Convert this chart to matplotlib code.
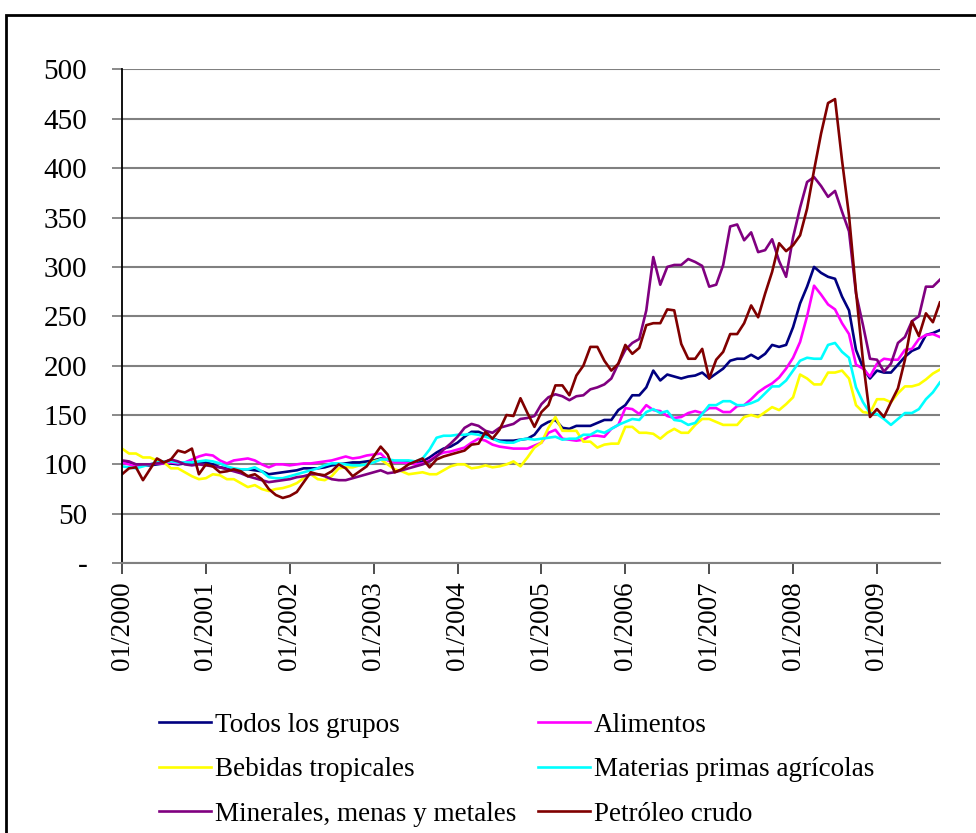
import numpy as np
import matplotlib
matplotlib.use('Agg')
import matplotlib.pyplot as plt
from matplotlib.patches import Rectangle

plt.rcParams['font.family'] = ['Liberation Serif', 'DejaVu Serif']

# monthly index values, 01/2000 .. 10/2009 (one row per year)
todos = [103, 101, 100, 99, 99, 100, 101, 101, 100, 101, 102, 102,
         102, 100, 97, 96, 95, 95, 95, 94, 93, 90, 91, 92,
         93, 94, 96, 96, 96, 97, 99, 100, 101, 102, 102, 103,
         104, 106, 105, 103, 103, 102, 102, 103, 107, 112, 116, 118,
         122, 128, 133, 133, 130, 126, 124, 124, 124, 125, 126, 130,
         139, 143, 145, 137, 136, 139, 139, 139, 142, 145, 145, 155,
         160, 170, 170, 178, 195, 185, 191, 189, 187, 189, 190, 193,
         187, 192, 197, 205, 207, 207, 211, 207, 212, 221, 219, 221,
         239, 263, 280, 300, 294, 290, 288, 270, 256, 216, 198, 187,
         195, 193, 193, 201, 209, 215, 218, 231, 233, 236]

alimentos = [102, 100, 98, 99, 100, 101, 101, 102, 101, 102, 105, 108,
             110, 109, 104, 101, 104, 105, 106, 104, 100, 97, 100, 100,
             99, 100, 101, 101, 102, 103, 104, 106, 108, 106, 107, 109,
             110, 111, 104, 102, 102, 101, 100, 101, 104, 109, 112, 113,
             115, 117, 122, 126, 124, 120, 118, 117, 116, 116, 116, 119,
             122, 132, 135, 126, 125, 124, 125, 129, 129, 128, 136, 140,
             157, 156, 151, 160, 155, 154, 149, 147, 148, 152, 154, 152,
             157, 157, 153, 153, 159, 160, 166, 173, 178, 182, 188, 197,
             208, 224, 250, 281, 272, 262, 257, 243, 232, 201, 197, 189,
             202, 207, 206, 206, 216, 217, 227, 231, 232, 229]

bebidas = [116, 111, 111, 107, 107, 104, 102, 96, 96, 92, 88, 85,
           86, 90, 89, 85, 85, 81, 77, 79, 75, 73, 75, 76,
           78, 81, 86, 90, 85, 84, 88, 96, 97, 97, 99, 100,
           103, 105, 100, 95, 93, 90, 91, 92, 90, 90, 94, 98,
           100, 100, 96, 97, 99, 97, 98, 100, 103, 98, 107, 117,
           122, 137, 148, 134, 134, 134, 123, 123, 117, 120, 121, 121,
           138, 138, 132, 132, 131, 126, 132, 136, 132, 132, 140, 146,
           146, 143, 140, 140, 140, 148, 150, 148, 153, 158, 155, 161,
           168, 191, 187, 181, 181, 193, 193, 195, 187, 160, 153, 152,
           166, 166, 163, 172, 179, 179, 181, 186, 192, 196]

materias = [98, 97, 96, 98, 100, 102, 103, 103, 102, 102, 102, 103,
            104, 103, 101, 98, 96, 95, 95, 97, 93, 87, 86, 86,
            88, 90, 92, 94, 96, 99, 101, 101, 100, 99, 99, 100,
            102, 105, 105, 104, 104, 104, 103, 106, 115, 127, 129, 129,
            130, 130, 131, 130, 128, 126, 123, 122, 122, 125, 126, 125,
            126, 127, 128, 125, 126, 126, 130, 130, 134, 132, 136, 140,
            143, 146, 145, 153, 156, 152, 154, 145, 144, 140, 142, 151,
            160, 160, 164, 164, 160, 160, 162, 165, 172, 179, 179, 185,
            195, 205, 208, 207, 207, 221, 223, 214, 208, 178, 163, 152,
            151, 146, 140, 146, 152, 152, 156, 166, 173, 183]

minerales = [104, 103, 100, 100, 100, 101, 102, 105, 103, 100, 99, 100,
             99, 98, 97, 95, 93, 91, 88, 86, 84, 82, 83, 84,
             85, 87, 88, 90, 90, 88, 85, 84, 84, 86, 88, 90,
             92, 94, 91, 92, 94, 96, 98, 100, 103, 108, 115, 121,
             128, 137, 141, 139, 134, 132, 137, 139, 141, 146, 147, 149,
             161, 168, 171, 169, 165, 169, 170, 176, 178, 181, 187, 202,
             216, 223, 227, 256, 310, 282, 300, 302, 302, 308, 305, 301,
             280, 282, 302, 341, 343, 327, 335, 315, 317, 328, 306, 290,
             330, 360, 386, 391, 382, 371, 377, 356, 336, 273, 241, 207,
             206, 194, 202, 223, 229, 245, 250, 280, 280, 287]

petroleo = [90, 96, 97, 84, 95, 106, 102, 105, 114, 112, 116, 90,
            100, 98, 92, 93, 95, 93, 88, 90, 85, 75, 69, 66,
            68, 72, 82, 92, 90, 89, 93, 100, 96, 88, 93, 98,
            108, 118, 110, 92, 95, 100, 103, 106, 97, 105, 108, 110,
            112, 114, 120, 121, 133, 126, 135, 150, 149, 167, 152, 138,
            153, 160, 180, 180, 170, 190, 200, 219, 219, 205, 195, 202,
            221, 212, 218, 241, 243, 243, 257, 256, 222, 207, 207, 217,
            187, 206, 214, 232, 232, 243, 261, 249, 273, 295, 324, 316,
            322, 332, 359, 398, 435, 466, 470, 408, 352, 275, 205, 148,
            156, 148, 163, 177, 206, 245, 230, 253, 244, 264]

names = ['Todos los grupos', 'Alimentos', 'Bebidas tropicales',
         'Materias primas agrícolas', 'Minerales, menas y metales', 'Petróleo crudo']
colors = ['#000080', '#FF00FF', '#FFFF00', '#00FFFF', '#800080', '#800000']
year_labels = ['01/%d' % y for y in range(2000, 2010)]
y_ticks = list(range(0, 501, 50))
y_labels = ['-'] + [str(v) for v in y_ticks[1:]]

fig = plt.figure(figsize=(9.76, 8.33), dpi=100)
ax = fig.add_axes([0.125, 0.324, 0.838, 0.5926])

months = np.arange(len(todos))
lines = []
for vals, name, col in zip([todos, alimentos, bebidas, materias, minerales, petroleo], names, colors):
    ln, = ax.plot(months, vals, color=col, lw=1.9, label=name)
    lines.append(ln)

ax.set_xlim(0, len(todos) - 1)
ax.set_ylim(0, 500)
ax.set_yticks(y_ticks)
ax.set_yticklabels(y_labels)
ax.set_xticks(np.arange(0, len(todos), 12))
ax.set_xticklabels(year_labels, rotation=90)

ax.yaxis.grid(True, color='#808080', lw=1.5)
ax.set_axisbelow(True)
for s in ['top', 'right']:
    ax.spines[s].set_visible(False)
ax.spines['left'].set_color('black')
ax.spines['left'].set_linewidth(1.3)
ax.spines['bottom'].set_color('#808080')
ax.spines['bottom'].set_linewidth(1.5)
ax.tick_params(axis='y', direction='out', length=7, width=1.3, color='#808080',
               labelsize=21, pad=18)
ax.tick_params(axis='x', direction='out', length=8, width=1.3, color='#404040',
               labelsize=19.5, pad=5)

# legend: 3 rows x 2 columns (matplotlib fills column-wise)
order = [0, 2, 4, 1, 3, 5]
fig.legend([lines[i] for i in order], [names[i] for i in order],
           loc='upper left', bbox_to_anchor=(145 / 976, 1 - 699 / 833),
           ncol=2, frameon=False, fontsize=19.5, borderpad=0,
           handlelength=1.95, handletextpad=0.12, columnspacing=0.8,
           labelspacing=0.72)

# chart border
fig.patches.append(Rectangle((6 / 976, -0.05), 1.0, 1 - 15 / 833 + 0.05,
                             transform=fig.transFigure, fill=False,
                             lw=2, ec='black'))

fig.savefig('out.png', dpi=100)
